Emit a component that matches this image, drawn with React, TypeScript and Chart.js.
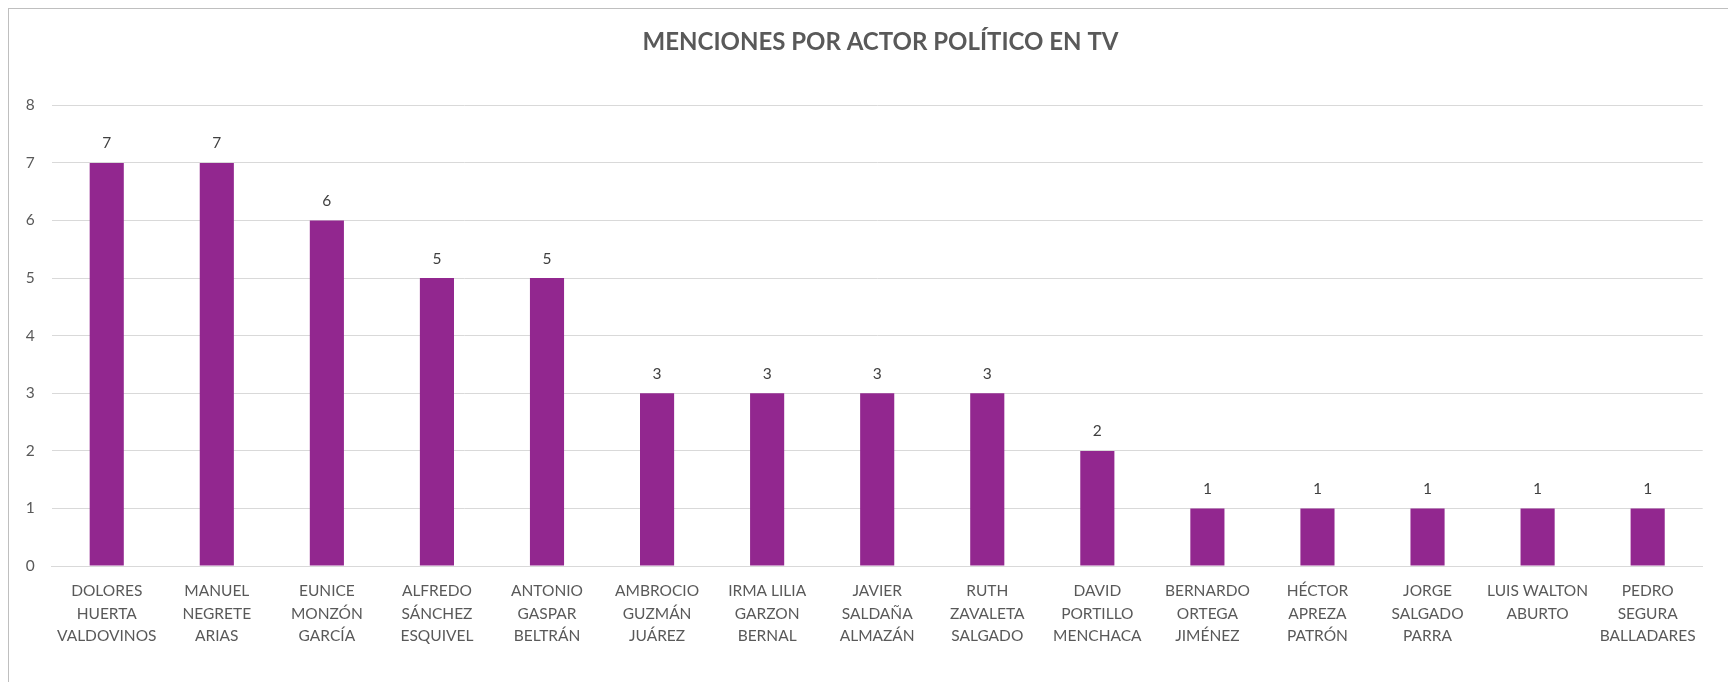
import React, { useEffect, useRef } from "react";
import { Chart, registerables } from "chart.js";

Chart.register(...registerables);

const categories: string[][] = [
  ["DOLORES", "HUERTA", "VALDOVINOS"],
  ["MANUEL", "NEGRETE", "ARIAS"],
  ["EUNICE", "MONZÓN", "GARCÍA"],
  ["ALFREDO", "SÁNCHEZ", "ESQUIVEL"],
  ["ANTONIO", "GASPAR", "BELTRÁN"],
  ["AMBROCIO", "GUZMÁN", "JUÁREZ"],
  ["IRMA LILIA", "GARZON", "BERNAL"],
  ["JAVIER", "SALDAÑA", "ALMAZÁN"],
  ["RUTH", "ZAVALETA", "SALGADO"],
  ["DAVID", "PORTILLO", "MENCHACA"],
  ["BERNARDO", "ORTEGA", "JIMÉNEZ"],
  ["HÉCTOR", "APREZA", "PATRÓN"],
  ["JORGE", "SALGADO", "PARRA"],
  ["LUIS WALTON", "ABURTO"],
  ["PEDRO", "SEGURA", "BALLADARES"],
];

const mentions: number[] = [7, 7, 6, 5, 5, 3, 3, 3, 3, 2, 1, 1, 1, 1, 1];

const yTicks: number[] = [0, 1, 2, 3, 4, 5, 6, 7, 8];

const titleText = "MENCIONES POR ACTOR POLÍTICO EN TV";

const FONT = "Lato, 'Open Sans', sans-serif";

const dataLabels = {
  id: "dataLabels",
  afterDatasetsDraw(chart: any) {
    const ctx = chart.ctx;
    const meta = chart.getDatasetMeta(0);
    ctx.save();
    ctx.font = `15.5px ${FONT}`;
    ctx.fillStyle = "#404040";
    ctx.textAlign = "center";
    ctx.textBaseline = "middle";
    meta.data.forEach((bar: any, i: number) => {
      ctx.fillText(String(chart.data.datasets[0].data[i]), bar.x, bar.y - 19.5);
    });
    ctx.restore();
  },
};

const chartTitle = {
  id: "chartTitle",
  afterDraw(chart: any) {
    const ctx = chart.ctx;
    ctx.save();
    ctx.font = `bold 24px ${FONT}`;
    ctx.fillStyle = "#595959";
    ctx.textAlign = "center";
    ctx.textBaseline = "alphabetic";
    ctx.fillText(titleText, chart.width / 2, 41);
    ctx.restore();
  },
};

export default function App() {
  const canvasRef = useRef<HTMLCanvasElement | null>(null);

  useEffect(() => {
    if (!canvasRef.current) return;
    const chart = new Chart(canvasRef.current, {
      type: "bar",
      data: {
        labels: categories,
        datasets: [
          {
            data: mentions,
            backgroundColor: "#92278F",
            barPercentage: 0.31,
            categoryPercentage: 1,
          },
        ],
      },
      options: {
        animation: false,
        responsive: false,
        maintainAspectRatio: false,
        layout: { padding: { left: 0, right: 49.3, top: 96.3, bottom: 20.5 } },
        plugins: {
          legend: { display: false },
          tooltip: { enabled: false },
          title: { display: false },
        },
        scales: {
          x: {
            grid: { display: false, drawTicks: false },
            border: { display: true, color: "#d9d9d9", width: 1 },
            ticks: {
              color: "#595959",
              font: { family: FONT, size: 15.5, lineHeight: 1.45 },
              padding: 14,
              maxRotation: 0,
              autoSkip: false,
            },
          },
          y: {
            min: 0,
            max: 8,
            afterBuildTicks(scale: any) {
              scale.ticks = yTicks.map((v) => ({ value: v }));
            },
            afterFit(scale: any) {
              scale.width = 42.7;
            },
            grid: { color: "#d9d9d9", lineWidth: 1, drawTicks: false },
            border: { display: false },
            ticks: {
              color: "#595959",
              font: { family: FONT, size: 15.5 },
              padding: 17,
            },
          },
        },
      },
      plugins: [dataLabels, chartTitle],
    });
    return () => chart.destroy();
  }, []);

  return (
    <div style={{ width: 1728, height: 674, overflow: "hidden" }}>
      <div
        style={{
          width: 1744,
          height: 674,
          borderTop: "1px solid #bfbfbf",
          borderLeft: "1px solid #bfbfbf",
          background: "#ffffff",
          boxSizing: "border-box",
        }}
      >
        <canvas ref={canvasRef} width={1743} height={673} style={{ display: "block" }} />
      </div>
    </div>
  );
}
